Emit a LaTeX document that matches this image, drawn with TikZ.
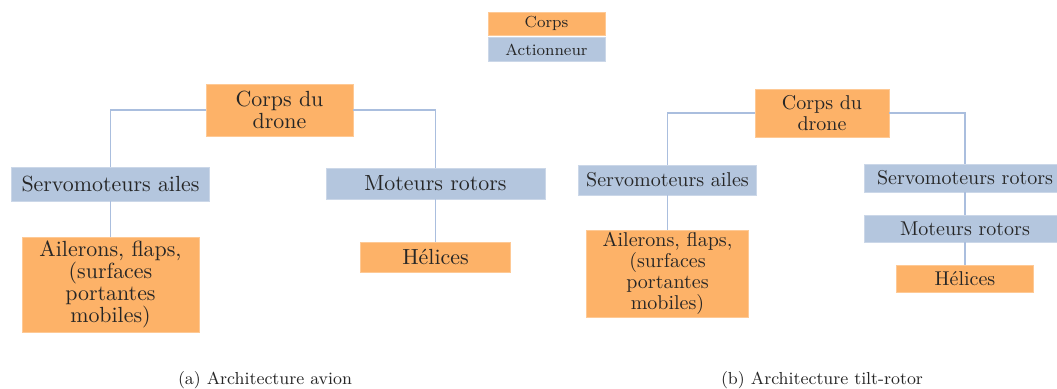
\documentclass[tikz,border=0pt]{standalone}
\usepackage{tikz}
\definecolor{corpsc}{RGB}{253,178,104}
\definecolor{actc}{RGB}{180,198,222}
\definecolor{linec}{RGB}{170,190,222}
\tikzset{
  box/.style={inner sep=0pt, align=center, font=\fontsize{10}{10.4}\selectfont, text=black!85},
  boxa/.style={font=\fontsize{10.95}{10.9}\selectfont},
  corps/.style={box, fill=corpsc, draw=corpsc!70!white, line width=0.4pt},
  act/.style={box, fill=actc, draw=actc!70!white, line width=0.4pt},
  conn/.style={draw=linec, line width=0.6pt},
  captext/.style={font=\fontsize{8.7}{10}\selectfont, text=black!85},
}
\begin{document}
\begin{tikzpicture}[x=0.5pt,y=-0.5pt]
\useasboundingbox (0,0) rectangle (1057,389);
% legend
\node[corps, minimum width=58.5pt, minimum height=11.5pt, font=\footnotesize] (lc) at (546.5,23.5) {Corps};
\node[act, minimum width=58.5pt, minimum height=12pt, font=\footnotesize] (la) at (546.5,49.5) {Actionneur};
% (a)
\node[corps, boxa, minimum width=73.5pt, minimum height=26pt] (ca) at (279.5,110) {Corps du\\drone};
\node[act, boxa, minimum width=99pt, minimum height=17pt] (sa) at (110.5,184) {Servomoteurs ailes};
\node[act, boxa, minimum width=109.5pt, minimum height=15.5pt] (ma) at (435.5,183.5) {Moteurs rotors};
\node[corps, boxa, minimum width=88.5pt, minimum height=47.5pt] (aa) at (110.5,284.5) {Ailerons, flaps,\\(surfaces\\portantes\\mobiles)};
\node[corps, boxa, minimum width=75pt, minimum height=15pt] (ha) at (435.5,257) {H\'elices};
\draw[conn] (ca.west) -| (sa.north);
\draw[conn] (ca.east) -| (ma.north);
\draw[conn] (sa.south) -- (aa.north);
\draw[conn] (ma.south) -- (ha.north);
% (b)
\node[corps, minimum width=67pt, minimum height=24pt] (cb) at (822,113) {Corps du\\drone};
\node[act, minimum width=89pt, minimum height=15pt] (sb) at (667.5,180) {Servomoteurs ailes};
\node[act, minimum width=101pt, minimum height=14pt] (rb) at (965,178) {Servomoteurs rotors};
\node[act, minimum width=101pt, minimum height=13.5pt] (mb) at (965,228.5) {Moteurs rotors};
\node[corps, minimum width=81pt, minimum height=43.5pt] (ab) at (667.5,273.5) {Ailerons, flaps,\\(surfaces\\portantes\\mobiles)};
\node[corps, minimum width=68.5pt, minimum height=13.5pt] (hb) at (965,278.5) {H\'elices};
\draw[conn] (cb.west) -| (sb.north);
\draw[conn] (cb.east) -| (rb.north);
\draw[conn] (sb.south) -- (ab.north);
\draw[conn] (rb.south) -- (mb.north);
\draw[conn] (mb.south) -- (hb.north);
% captions
\node[captext] (capa) at (265,380) {(a) Architecture avion};
\node[captext] (capb) at (822,380) {(b) Architecture tilt-rotor};
\end{tikzpicture}
\end{document}
